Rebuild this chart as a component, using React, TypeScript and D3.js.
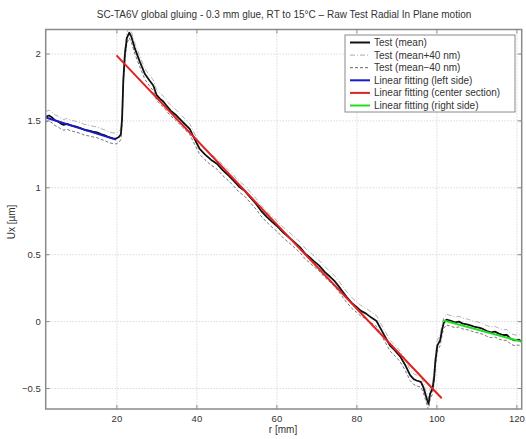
import React from "react";
import * as d3 from "d3";

const title = "SC-TA6V global gluing - 0.3 mm glue, RT to 15°C – Raw Test Radial In Plane motion";
const xTicks = [20, 40, 60, 80, 100, 120];
const yTicks = [-0.5, 0, 0.5, 1, 1.5, 2];

const meanR = [2.2, 3.0, 3.8, 4.5, 5.3, 6.0, 6.7, 7.5, 8.3, 9.0, 10.0, 11.0, 12.0, 13.0, 14.0, 15.0, 16.0, 17.0, 18.0, 19.0, 19.8, 20.5, 21.0, 21.3, 21.6, 22.0, 22.5, 23.1, 23.6, 24.5, 25.7, 27.0, 28.2, 29.1, 29.9, 30.8, 31.6, 32.5, 33.5, 34.9, 36.5, 38.2, 39.5, 40.7, 42.0, 43.5, 45.0, 46.5, 48.0, 49.1, 50.5, 52.0, 53.3, 54.8, 56.0, 57.4, 58.8, 60.0, 61.6, 63.0, 64.5, 65.8, 67.0, 68.0, 69.3, 70.5, 72.0, 73.3, 74.5, 75.8, 77.4, 78.7, 79.9, 81.0, 82.3, 83.6, 84.9, 85.8, 87.0, 88.3, 89.5, 90.8, 92.0, 93.3, 94.2, 94.9, 96.0, 96.6, 97.1, 97.6, 97.9, 98.3, 98.9, 99.3, 99.6, 100.1, 100.8, 101.3, 101.7, 102.4, 103.5, 104.5, 105.5, 106.5, 107.5, 108.6, 109.5, 110.5, 111.5, 112.5, 113.5, 114.5, 115.5, 116.5, 117.5, 118.5, 119.5, 120.5, 121.2];
const meanU = [1.53, 1.54, 1.525, 1.505, 1.495, 1.48, 1.47, 1.478, 1.468, 1.462, 1.455, 1.445, 1.432, 1.428, 1.42, 1.415, 1.402, 1.392, 1.378, 1.37, 1.368, 1.38, 1.4, 1.52, 1.8, 2.0, 2.12, 2.16, 2.13, 2.04, 1.945, 1.85, 1.8, 1.765, 1.695, 1.665, 1.645, 1.61, 1.575, 1.54, 1.49, 1.44, 1.36, 1.29, 1.25, 1.21, 1.18, 1.13, 1.09, 1.056, 1.01, 0.975, 0.93, 0.88, 0.83, 0.785, 0.745, 0.715, 0.665, 0.63, 0.59, 0.555, 0.51, 0.485, 0.45, 0.42, 0.37, 0.335, 0.3, 0.25, 0.185, 0.14, 0.11, 0.08, 0.06, 0.03, 0.005, -0.045, -0.11, -0.18, -0.215, -0.26, -0.32, -0.4, -0.43, -0.44, -0.45, -0.49, -0.54, -0.59, -0.615, -0.54, -0.5, -0.42, -0.3, -0.18, -0.14, -0.06, -0.01, 0.015, 0.005, -0.005, 0.0, -0.015, -0.02, -0.03, -0.04, -0.045, -0.055, -0.07, -0.08, -0.075, -0.09, -0.1, -0.1, -0.13, -0.14, -0.135, -0.15];
const offsetNm = 40;

const leftFitR = [2.2, 19.8];
const leftFitU = [1.525, 1.36];
const centerFitR = [19.9, 101.2];
const centerFitU = [1.99, -0.573];
const rightFitR = [101.5, 121.3];
const rightFitU = [0.01, -0.15];

const legendLabels = [
  "Test (mean)",
  "Test (mean+40 nm)",
  "Test (mean−40 nm)",
  "Linear fitting (left side)",
  "Linear fitting (center section)",
  "Linear fitting (right side)",
];

export default function App() {
  const W = 526, H = 439;
  const L = 45.7, R = 521.7, T = 29.5, B = 409;
  const x = d3.scaleLinear().domain([2.2, 121.2]).range([L, R]);
  const y = d3.scaleLinear().domain([-0.653, 2.183]).range([B, T]);
  const line = d3.line<[number, number]>().x(d => x(d[0])).y(d => y(d[1]));
  const pts = (rs: number[], us: number[], off = 0) => rs.map((r, i) => [r, us[i] + off] as [number, number]);
  const off = offsetNm / 1000;
  const font = "Liberation Sans, Arial, sans-serif";
  const txt = "#333";

  const legendStyles = [
    { stroke: "#111", width: 2, dash: "" },
    { stroke: "#aaa", width: 1, dash: "5,2,1,2" },
    { stroke: "#666", width: 1, dash: "3,2" },
    { stroke: "#1a1acc", width: 2, dash: "" },
    { stroke: "#e02222", width: 2, dash: "" },
    { stroke: "#22dd22", width: 2, dash: "" },
  ];

  return (
    <svg width={W} height={H} style={{ position: "absolute", left: 0, top: 0, background: "#fff" }}>
      <defs>
        <clipPath id="plotclip">
          <rect x={L} y={T} width={R - L} height={B - T} />
        </clipPath>
      </defs>
      <rect x={0} y={0} width={W} height={H} fill="#fff" />
      {/* grid */}
      {xTicks.map(t => (
        <line key={"gx" + t} x1={x(t)} x2={x(t)} y1={T} y2={B} stroke="#c8c8c8" strokeDasharray="1,2" strokeWidth={1} />
      ))}
      {yTicks.map(t => (
        <line key={"gy" + t} x1={L} x2={R} y1={y(t)} y2={y(t)} stroke="#c8c8c8" strokeDasharray="1,2" strokeWidth={1} />
      ))}
      <g clipPath="url(#plotclip)" fill="none">
        <path d={line(pts(meanR, meanU, off)) || ""} stroke="#aaa" strokeWidth={0.9} strokeDasharray="5,2,1,2" />
        <path d={line(pts(meanR, meanU, -off)) || ""} stroke="#666" strokeWidth={0.9} strokeDasharray="3,2" />
        <path d={line(pts(meanR, meanU)) || ""} stroke="#111" strokeWidth={1.8} strokeLinejoin="round" />
        <path d={line(pts(leftFitR, leftFitU)) || ""} stroke="#1a1acc" strokeWidth={2} />
        <path d={line(pts(centerFitR, centerFitU)) || ""} stroke="#e02222" strokeWidth={2} />
        <path d={line(pts(rightFitR, rightFitU)) || ""} stroke="#22dd22" strokeWidth={2} />
      </g>
      {/* axes box */}
      <rect x={L} y={T} width={R - L} height={B - T} fill="none" stroke="#8a8a8a" strokeWidth={1.5} />
      {xTicks.map(t => (
        <g key={"xt" + t}>
          <line x1={x(t)} x2={x(t)} y1={B} y2={B - 4} stroke="#8a8a8a" />
          <line x1={x(t)} x2={x(t)} y1={T} y2={T + 4} stroke="#8a8a8a" />
          <text x={x(t)} y={B + 13} textAnchor="middle" fontSize={9.5} fontFamily={font} fill={txt}>{t}</text>
        </g>
      ))}
      {yTicks.map(t => (
        <g key={"yt" + t}>
          <line x1={L} x2={L + 4} y1={y(t)} y2={y(t)} stroke="#8a8a8a" />
          <line x1={R} x2={R - 4} y1={y(t)} y2={y(t)} stroke="#8a8a8a" />
          <text x={L - 5} y={y(t) + 3.3} textAnchor="end" fontSize={9.5} fontFamily={font} fill={txt}>{t < 0 ? "−" + Math.abs(t) : String(t)}</text>
        </g>
      ))}
      <text x={284} y={18} textAnchor="middle" fontSize={10} fontFamily={font} fill={txt}>{title}</text>
      <text x={283} y={433} textAnchor="middle" fontSize={10} fontFamily={font} fill={txt}>r [mm]</text>
      <text transform={`translate(15,222) rotate(-90)`} textAnchor="middle" fontSize={10} fontFamily={font} fill={txt}>Ux [µm]</text>
      {/* legend */}
      <rect x={345} y={35} width={170} height={77} fill="#fff" stroke="#8a8a8a" strokeWidth={1} />
      {legendLabels.map((lab, i) => {
        const ly = 42.5 + i * 12.6;
        const s = legendStyles[i];
        return (
          <g key={lab}>
            <line x1={350} x2={370} y1={ly} y2={ly} stroke={s.stroke} strokeWidth={s.width} strokeDasharray={s.dash || undefined} />
            <text x={374} y={ly + 3.5} fontSize={10} fontFamily={font} fill={txt}>{lab}</text>
          </g>
        );
      })}
    </svg>
  );
}
